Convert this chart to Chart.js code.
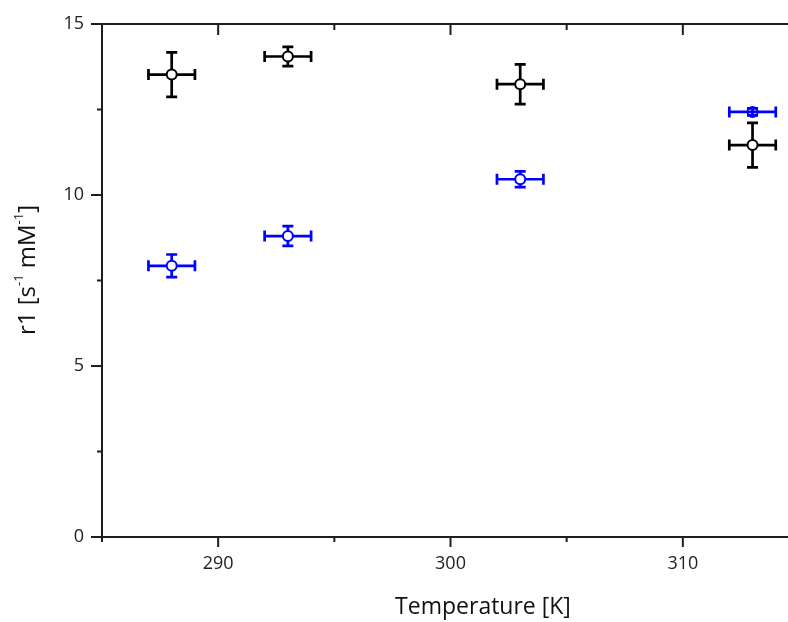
<!DOCTYPE html>
<html>
<head>
<meta charset="utf-8">
<script src="https://cdn.jsdelivr.net/npm/chart.js@4"></script>
<style>
  html, body { margin: 0; padding: 0; background: #fff; overflow: hidden; }
  #wrap { width: 806px; height: 622px; position: relative; }
  #c { display: block; }
</style>
</head>
<body>
<div id="wrap"><canvas id="c" width="806" height="622"></canvas></div>
<script>
// Relaxivity r1 versus temperature, two samples with x/y uncertainties
const temperatures = [288, 293, 303, 313];
const tempError = [1, 1, 1, 1];

const r1Black = [13.52, 14.05, 13.24, 11.46];
const r1BlackError = [0.65, 0.28, 0.58, 0.65];

const r1Blue = [7.93, 8.80, 10.46, 12.43];
const r1BlueError = [0.33, 0.29, 0.23, 0.10];

const xTickLabels = [290, 300, 310];
const yTickLabels = [0, 5, 10, 15];

const FONT = '"Open Sans", Lato, sans-serif';
const AXIS_COLOR = '#1e1e1e';

function points(xs, ys) {
  return xs.map((x, i) => ({ x: x, y: ys[i] }));
}

// Cross-shaped error bars with end caps, drawn behind the markers
const errorBars = {
  id: 'errorBars',
  beforeDatasetsDraw(chart) {
    const ctx = chart.ctx;
    const xs = chart.scales.x, ys = chart.scales.y;
    const cap = 5.5;
    chart.data.datasets.forEach(ds => {
      ctx.save();
      ctx.strokeStyle = ds.borderColor;
      ctx.lineWidth = 2.7;
      ctx.lineCap = 'butt';
      ds.data.forEach((p, i) => {
        const px = xs.getPixelForValue(p.x);
        const py = ys.getPixelForValue(p.y);
        const x0 = xs.getPixelForValue(p.x - ds.errorX[i]);
        const x1 = xs.getPixelForValue(p.x + ds.errorX[i]);
        const y0 = ys.getPixelForValue(p.y - ds.errorY[i]);
        const y1 = ys.getPixelForValue(p.y + ds.errorY[i]);
        ctx.beginPath();
        ctx.moveTo(x0, py); ctx.lineTo(x1, py);
        ctx.moveTo(x0, py - cap); ctx.lineTo(x0, py + cap);
        ctx.moveTo(x1, py - cap); ctx.lineTo(x1, py + cap);
        ctx.moveTo(px, y0); ctx.lineTo(px, y1);
        ctx.moveTo(px - cap, y0); ctx.lineTo(px + cap, y0);
        ctx.moveTo(px - cap, y1); ctx.lineTo(px + cap, y1);
        ctx.stroke();
      });
      ctx.restore();
    });
  }
};

// Frame lines, major/minor tick marks and axis titles
const frame = {
  id: 'frame',
  afterDraw(chart) {
    const ctx = chart.ctx;
    const a = chart.chartArea;
    const xs = chart.scales.x, ys = chart.scales.y;
    ctx.save();
    ctx.strokeStyle = AXIS_COLOR;
    ctx.lineWidth = 2;
    ctx.lineCap = 'square';
    ctx.beginPath();
    ctx.moveTo(a.left, a.top); ctx.lineTo(a.right, a.top);
    ctx.moveTo(a.left, a.top); ctx.lineTo(a.left, a.bottom);
    ctx.moveTo(a.left, a.bottom); ctx.lineTo(a.right, a.bottom);
    ctx.stroke();

    ctx.lineCap = 'butt';
    ctx.beginPath();
    xs.ticks.forEach(t => {
      const major = xTickLabels.includes(t.value);
      const px = xs.getPixelForValue(t.value);
      ctx.moveTo(px, a.bottom); ctx.lineTo(px, a.bottom + (major ? 10 : 5));
      ctx.moveTo(px, a.top); ctx.lineTo(px, a.top + (major ? 11 : 6));
    });
    ys.ticks.forEach(t => {
      const major = yTickLabels.includes(t.value);
      const py = ys.getPixelForValue(t.value);
      ctx.moveTo(a.left, py); ctx.lineTo(a.left - (major ? 11 : 5), py);
    });
    ctx.stroke();

    ctx.fillStyle = '#111';
    ctx.textBaseline = 'middle';
    ctx.textAlign = 'center';
    ctx.font = '23px ' + FONT;
    ctx.fillText('Temperature [K]', 483, 607);

    // y title with superscripts, rotated
    const parts = [
      { t: 'r1 [s', sup: false },
      { t: '-1', sup: true },
      { t: ' mM', sup: false },
      { t: '-1', sup: true },
      { t: ']', sup: false }
    ];
    const big = '24px ' + FONT, small = '13px ' + FONT;
    let total = 0;
    parts.forEach(p => { ctx.font = p.sup ? small : big; p.w = ctx.measureText(p.t).width; total += p.w; });
    ctx.translate(28, 270);
    ctx.rotate(-Math.PI / 2);
    ctx.textAlign = 'left';
    let x = -total / 2;
    parts.forEach(p => {
      ctx.font = p.sup ? small : big;
      ctx.fillText(p.t, x, p.sup ? -9 : 0);
      x += p.w;
    });
    ctx.restore();
  }
};

new Chart(document.getElementById('c'), {
  type: 'scatter',
  data: {
    datasets: [
      {
        label: 'black',
        data: points(temperatures, r1Black),
        errorX: tempError,
        errorY: r1BlackError,
        borderColor: '#000000',
        pointBackgroundColor: '#ffffff',
        pointBorderColor: '#000000',
        pointBorderWidth: 2,
        pointRadius: 5,
        pointHoverRadius: 5
      },
      {
        label: 'blue',
        data: points(temperatures, r1Blue),
        errorX: tempError,
        errorY: r1BlueError,
        borderColor: '#0000ff',
        pointBackgroundColor: ['#ffffff', '#ffffff', '#ffffff', 'rgba(255,255,255,0)'],
        pointBorderColor: '#0000ff',
        pointBorderWidth: 2,
        pointRadius: 5,
        pointHoverRadius: 5
      }
    ]
  },
  options: {
    responsive: false,
    animation: false,
    layout: { padding: { top: 24, right: 0, bottom: 0, left: 0 } },
    plugins: { legend: { display: false }, tooltip: { enabled: false } },
    scales: {
      x: {
        type: 'linear',
        min: 285,
        max: 315,
        grid: { display: false, drawTicks: false },
        border: { display: false },
        ticks: {
          stepSize: 5,
          padding: 16,
          color: '#222',
          font: { family: FONT, size: 18 },
          maxRotation: 0,
          autoSkip: false,
          callback: v => xTickLabels.includes(v) ? String(v) : ''
        },
        afterFit: s => { s.height = 85; s.paddingLeft = 0; s.paddingRight = 0; }
      },
      y: {
        type: 'linear',
        min: 0,
        max: 15,
        grid: { display: false, drawTicks: false },
        border: { display: false },
        ticks: {
          stepSize: 2.5,
          padding: 18,
          color: '#222',
          font: { family: FONT, size: 18 },
          autoSkip: false,
          callback: v => yTickLabels.includes(v) ? String(v) : ''
        },
        afterFit: s => { s.width = 102; s.paddingTop = 0; s.paddingBottom = 0; }
      }
    }
  },
  plugins: [errorBars, frame]
});
</script>
</body>
</html>
